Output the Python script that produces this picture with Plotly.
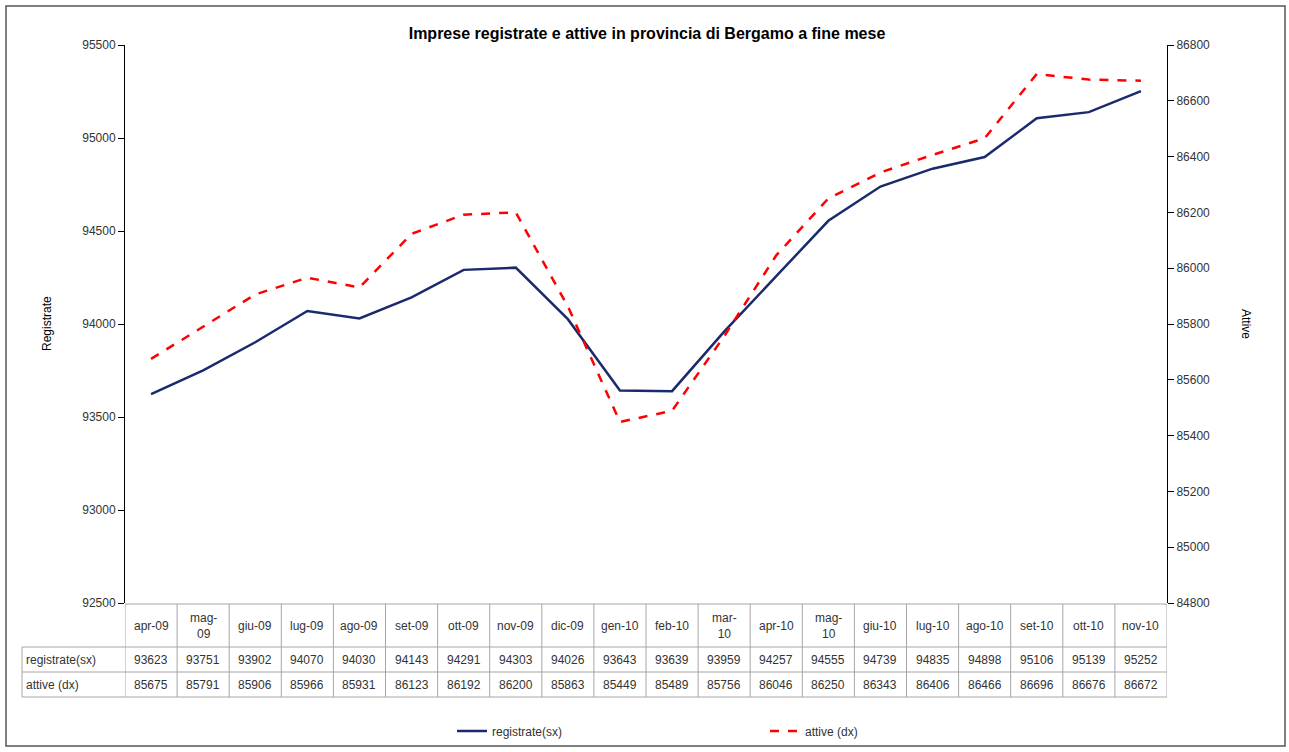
import plotly.graph_objects as go

months = ["apr-09", "mag-09", "giu-09", "lug-09", "ago-09", "set-09", "ott-09", "nov-09", "dic-09", "gen-10",
          "feb-10", "mar-10", "apr-10", "mag-10", "giu-10", "lug-10", "ago-10", "set-10", "ott-10", "nov-10"]
header_labels = ["apr-09", "mag-<br>09", "giu-09", "lug-09", "ago-09", "set-09", "ott-09", "nov-09", "dic-09", "gen-10",
                 "feb-10", "mar-<br>10", "apr-10", "mag-<br>10", "giu-10", "lug-10", "ago-10", "set-10", "ott-10", "nov-10"]
registrate = [93623, 93751, 93902, 94070, 94030, 94143, 94291, 94303, 94026, 93643,
              93639, 93959, 94257, 94555, 94739, 94835, 94898, 95106, 95139, 95252]
attive = [85675, 85791, 85906, 85966, 85931, 86123, 86192, 86200, 85863, 85449,
          85489, 85756, 86046, 86250, 86343, 86406, 86466, 86696, 86676, 86672]

W, H = 1289, 752
L, R, T, B = 125, 1167, 45, 603
pw, ph = R - L, B - T

def px(x):
    return (x - L) / pw

def py(y):
    return (B - y) / ph

FONT = "Liberation Sans, Arial, sans-serif"
navy = "#1A2A6C"
red = "#FF0000"
grid = "#A6A6A6"
txt = "#333333"

fig = go.Figure()
fig.add_trace(go.Scatter(x=months, y=registrate, name="registrate(sx)", mode="lines",
                         line=dict(color=navy, width=2.5), yaxis="y"))
fig.add_trace(go.Scatter(x=months, y=attive, name="attive (dx)", mode="lines",
                         line=dict(color=red, width=2.5, dash="dash"), yaxis="y2"))

shapes = []
annotations = []
n = len(months)
y_head_top = py(604)
y_r1 = py(647)
y_r2 = py(672)
y_r3 = py(697)
x_left = px(22)

for i in range(n + 1):
    shapes.append(dict(type="line", xref="x", yref="paper", x0=i - 0.5, x1=i - 0.5,
                       y0=y_head_top, y1=y_r3, line=dict(color=grid, width=1)))
shapes.append(dict(type="line", xref="paper", yref="paper", x0=x_left, x1=x_left,
                   y0=y_r1, y1=y_r3, line=dict(color=grid, width=1)))
for yy in [y_r1, y_r2, y_r3]:
    shapes.append(dict(type="line", xref="paper", yref="paper", x0=x_left, x1=1,
                       y0=yy, y1=yy, line=dict(color=grid, width=1)))
shapes.append(dict(type="line", xref="paper", yref="paper", x0=0, x1=1,
                   y0=y_head_top, y1=y_head_top, line=dict(color=grid, width=1)))
shapes.append(dict(type="rect", xref="paper", yref="paper", x0=px(6), x1=px(1285),
                   y0=py(746), y1=py(6), line=dict(color="#555555", width=1.5)))

for i in range(n):
    annotations.append(dict(x=i, y=(y_head_top + y_r1) / 2, xref="x", yref="paper",
                            text=header_labels[i], showarrow=False,
                            font=dict(family=FONT, size=12, color=txt), yanchor="middle"))
    annotations.append(dict(x=i, y=(y_r1 + y_r2) / 2, xref="x", yref="paper",
                            text=str(registrate[i]), showarrow=False,
                            font=dict(family=FONT, size=12, color=txt), yanchor="middle"))
    annotations.append(dict(x=i, y=(y_r2 + y_r3) / 2, xref="x", yref="paper",
                            text=str(attive[i]), showarrow=False,
                            font=dict(family=FONT, size=12, color=txt), yanchor="middle"))
annotations.append(dict(x=px(24), y=(y_r1 + y_r2) / 2, xref="paper", yref="paper",
                        text="registrate(sx)", showarrow=False, xanchor="left", yanchor="middle",
                        font=dict(family=FONT, size=12, color=txt)))
annotations.append(dict(x=px(24), y=(y_r2 + y_r3) / 2, xref="paper", yref="paper",
                        text="attive (dx)", showarrow=False, xanchor="left", yanchor="middle",
                        font=dict(family=FONT, size=12, color=txt)))
annotations.append(dict(x=px(47), y=py(324), xref="paper", yref="paper", text="Registrate",
                        showarrow=False, textangle=-90, xanchor="center", yanchor="middle",
                        font=dict(family=FONT, size=12, color="#000000")))
annotations.append(dict(x=px(1246), y=py(324), xref="paper", yref="paper", text="Attive",
                        showarrow=False, textangle=90, xanchor="center", yanchor="middle",
                        font=dict(family=FONT, size=12, color="#000000")))

fig.update_layout(
    width=W, height=H,
    margin=dict(l=L, r=W - R, t=T, b=H - B, autoexpand=False),
    paper_bgcolor="white", plot_bgcolor="white",
    title=dict(text="<b>Imprese registrate e attive in provincia di Bergamo a fine mese</b>",
               x=px(647), xref="paper", xanchor="center", y=1 - 33 / H, yanchor="middle",
               font=dict(family=FONT, size=16, color="#000000")),
    xaxis=dict(type="category", range=[-0.5, n - 0.5], showticklabels=False, showgrid=False,
               showline=False, ticks="", zeroline=False),
    yaxis=dict(range=[92500, 95500], dtick=500, tick0=92500, tickformat="d", showgrid=False,
               showline=True, linecolor="#000000", linewidth=1, ticks="outside", ticklen=6,
               tickcolor="#000000", zeroline=False, automargin=False,
               tickfont=dict(family=FONT, size=12, color=txt)),
    yaxis2=dict(range=[84800, 86800], dtick=200, tick0=84800, tickformat="d", overlaying="y",
                side="right", showgrid=False, showline=True, linecolor="#000000", linewidth=1,
                ticks="outside", ticklen=6, tickcolor="#000000", zeroline=False, automargin=False,
                tickfont=dict(family=FONT, size=12, color=txt)),
    legend=dict(orientation="h", x=px(452), xanchor="left", y=py(731), yanchor="middle",
                entrywidth=268, entrywidthmode="pixels",
                font=dict(family=FONT, size=12, color=txt), bgcolor="rgba(0,0,0,0)"),
    shapes=shapes, annotations=annotations,
)

post = ("document.documentElement.style.margin='0';document.documentElement.style.padding='0';"
        "document.documentElement.style.overflow='hidden';"
        "document.body.style.margin='0';document.body.style.padding='0';"
        "document.body.style.overflow='hidden';")
fig.write_html("out.html", config={"displayModeBar": False}, post_script=post)
